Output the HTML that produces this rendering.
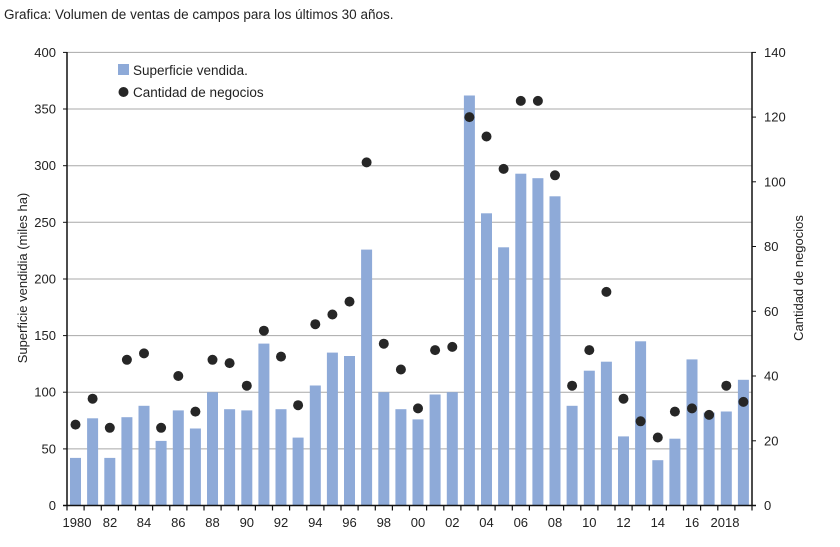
<!DOCTYPE html>
<html><head><meta charset="utf-8"><style>
html,body{margin:0;padding:0;background:#fff;}
svg{display:block;font-family:"Liberation Sans",sans-serif;}
</style></head><body>
<svg width="840" height="547" viewBox="0 0 840 547" xmlns="http://www.w3.org/2000/svg">
<rect width="840" height="547" fill="#fff"/>
<text x="4" y="19" font-size="13.5" fill="#222">Grafica: Volumen de ventas de campos para los últimos 30 años.</text>
<g stroke="#a8a8a8" stroke-width="1">
<line x1="67" y1="448.9" x2="752" y2="448.9"/>
<line x1="67" y1="392.2" x2="752" y2="392.2"/>
<line x1="67" y1="335.6" x2="752" y2="335.6"/>
<line x1="67" y1="279" x2="752" y2="279"/>
<line x1="67" y1="222.3" x2="752" y2="222.3"/>
<line x1="67" y1="165.7" x2="752" y2="165.7"/>
<line x1="67" y1="109" x2="752" y2="109"/>
<line x1="67" y1="52.4" x2="752" y2="52.4"/>
</g>
<g fill="#8eaad8">
<rect x="70" y="457.9" width="11" height="47.6"/>
<rect x="87.1" y="418.3" width="11" height="87.2"/>
<rect x="104.3" y="457.9" width="11" height="47.6"/>
<rect x="121.4" y="417.2" width="11" height="88.3"/>
<rect x="138.5" y="405.8" width="11" height="99.7"/>
<rect x="155.6" y="440.9" width="11" height="64.6"/>
<rect x="172.8" y="410.4" width="11" height="95.1"/>
<rect x="189.9" y="428.5" width="11" height="77"/>
<rect x="207" y="392.2" width="11" height="113.3"/>
<rect x="224.1" y="409.2" width="11" height="96.3"/>
<rect x="241.3" y="410.4" width="11" height="95.1"/>
<rect x="258.4" y="343.6" width="11" height="161.9"/>
<rect x="275.5" y="409.2" width="11" height="96.3"/>
<rect x="292.6" y="437.6" width="11" height="67.9"/>
<rect x="309.8" y="385.5" width="11" height="120"/>
<rect x="326.9" y="352.6" width="11" height="152.9"/>
<rect x="344" y="356" width="11" height="149.5"/>
<rect x="361.1" y="249.6" width="11" height="255.9"/>
<rect x="378.3" y="392.2" width="11" height="113.3"/>
<rect x="395.4" y="409.2" width="11" height="96.3"/>
<rect x="412.5" y="419.4" width="11" height="86.1"/>
<rect x="429.6" y="394.5" width="11" height="111"/>
<rect x="446.8" y="392.2" width="11" height="113.3"/>
<rect x="463.9" y="95.5" width="11" height="410"/>
<rect x="481" y="213.3" width="11" height="292.2"/>
<rect x="498.1" y="247.3" width="11" height="258.2"/>
<rect x="515.3" y="173.7" width="11" height="331.8"/>
<rect x="532.4" y="178.2" width="11" height="327.3"/>
<rect x="549.5" y="196.3" width="11" height="309.2"/>
<rect x="566.6" y="405.8" width="11" height="99.7"/>
<rect x="583.8" y="370.7" width="11" height="134.8"/>
<rect x="600.9" y="361.7" width="11" height="143.8"/>
<rect x="618" y="436.4" width="11" height="69.1"/>
<rect x="635.1" y="341.3" width="11" height="164.2"/>
<rect x="652.3" y="460.2" width="11" height="45.3"/>
<rect x="669.4" y="438.7" width="11" height="66.8"/>
<rect x="686.5" y="359.4" width="11" height="146.1"/>
<rect x="703.6" y="412.6" width="11" height="92.9"/>
<rect x="720.8" y="411.5" width="11" height="94"/>
<rect x="737.9" y="379.8" width="11" height="125.7"/>
</g>
<g fill="#262626">
<circle cx="75.5" cy="424.6" r="5"/>
<circle cx="92.6" cy="398.7" r="5"/>
<circle cx="109.8" cy="427.8" r="5"/>
<circle cx="126.9" cy="359.8" r="5"/>
<circle cx="144" cy="353.4" r="5"/>
<circle cx="161.1" cy="427.8" r="5"/>
<circle cx="178.3" cy="376" r="5"/>
<circle cx="195.4" cy="411.6" r="5"/>
<circle cx="212.5" cy="359.8" r="5"/>
<circle cx="229.6" cy="363.1" r="5"/>
<circle cx="246.8" cy="385.7" r="5"/>
<circle cx="263.9" cy="330.7" r="5"/>
<circle cx="281" cy="356.6" r="5"/>
<circle cx="298.1" cy="405.2" r="5"/>
<circle cx="315.3" cy="324.2" r="5"/>
<circle cx="332.4" cy="314.5" r="5"/>
<circle cx="349.5" cy="301.6" r="5"/>
<circle cx="366.6" cy="162.4" r="5"/>
<circle cx="383.8" cy="343.7" r="5"/>
<circle cx="400.9" cy="369.5" r="5"/>
<circle cx="418" cy="408.4" r="5"/>
<circle cx="435.1" cy="350.1" r="5"/>
<circle cx="452.3" cy="346.9" r="5"/>
<circle cx="469.4" cy="117.1" r="5"/>
<circle cx="486.5" cy="136.5" r="5"/>
<circle cx="503.6" cy="168.9" r="5"/>
<circle cx="520.8" cy="100.9" r="5"/>
<circle cx="537.9" cy="100.9" r="5"/>
<circle cx="555" cy="175.3" r="5"/>
<circle cx="572.1" cy="385.7" r="5"/>
<circle cx="589.3" cy="350.1" r="5"/>
<circle cx="606.4" cy="291.9" r="5"/>
<circle cx="623.5" cy="398.7" r="5"/>
<circle cx="640.6" cy="421.3" r="5"/>
<circle cx="657.8" cy="437.5" r="5"/>
<circle cx="674.9" cy="411.6" r="5"/>
<circle cx="692" cy="408.4" r="5"/>
<circle cx="709.1" cy="414.9" r="5"/>
<circle cx="726.3" cy="385.7" r="5"/>
<circle cx="743.4" cy="401.9" r="5"/>
</g>
<g stroke="#111" stroke-width="1.5">
<line x1="67" y1="52" x2="67" y2="505.5"/>
<line x1="752" y1="52" x2="752" y2="505.5"/>
<line x1="63" y1="505.5" x2="756" y2="505.5"/>
</g>
<g stroke="#111" stroke-width="1">
<line x1="63" y1="448.9" x2="67" y2="448.9"/><line x1="63" y1="392.2" x2="67" y2="392.2"/><line x1="63" y1="335.6" x2="67" y2="335.6"/><line x1="63" y1="279" x2="67" y2="279"/><line x1="63" y1="222.3" x2="67" y2="222.3"/><line x1="63" y1="165.7" x2="67" y2="165.7"/><line x1="63" y1="109" x2="67" y2="109"/><line x1="63" y1="52.4" x2="67" y2="52.4"/>
<line x1="752" y1="440.8" x2="756" y2="440.8"/><line x1="752" y1="376" x2="756" y2="376"/><line x1="752" y1="311.3" x2="756" y2="311.3"/><line x1="752" y1="246.5" x2="756" y2="246.5"/><line x1="752" y1="181.8" x2="756" y2="181.8"/><line x1="752" y1="117.1" x2="756" y2="117.1"/><line x1="752" y1="52.4" x2="756" y2="52.4"/>
</g>
<g stroke="#111" stroke-width="1.2">
<path d="M67 505.5v5M84.1 505.5v5M101.3 505.5v5M118.4 505.5v5M135.5 505.5v5M152.6 505.5v5M169.8 505.5v5M186.9 505.5v5M204 505.5v5M221.1 505.5v5M238.3 505.5v5M255.4 505.5v5M272.5 505.5v5M289.6 505.5v5M306.8 505.5v5M323.9 505.5v5M341 505.5v5M358.1 505.5v5M375.3 505.5v5M392.4 505.5v5M409.5 505.5v5M426.6 505.5v5M443.8 505.5v5M460.9 505.5v5M478 505.5v5M495.1 505.5v5M512.3 505.5v5M529.4 505.5v5M546.5 505.5v5M563.6 505.5v5M580.8 505.5v5M597.9 505.5v5M615 505.5v5M632.1 505.5v5M649.3 505.5v5M666.4 505.5v5M683.5 505.5v5M700.6 505.5v5M717.8 505.5v5M734.9 505.5v5M752 505.5v5"/>
</g>
<g font-size="13" fill="#222" text-anchor="end">
<text x="56" y="510">0</text><text x="56" y="453.4">50</text><text x="56" y="396.7">100</text><text x="56" y="340.1">150</text><text x="56" y="283.5">200</text><text x="56" y="226.8">250</text><text x="56" y="170.2">300</text><text x="56" y="113.5">350</text><text x="56" y="56.9">400</text>
</g>
<g font-size="13" fill="#222">
<text x="764" y="510">0</text><text x="764" y="445.3">20</text><text x="764" y="380.5">40</text><text x="764" y="315.8">60</text><text x="764" y="251">80</text><text x="764" y="186.3">100</text><text x="764" y="121.6">120</text><text x="764" y="56.9">140</text>
</g>
<g font-size="13" fill="#222" text-anchor="middle">
<text x="77" y="527">1980</text><text x="110" y="527">82</text><text x="144" y="527">84</text><text x="178.3" y="527">86</text><text x="212.5" y="527">88</text><text x="246.8" y="527">90</text><text x="281" y="527">92</text><text x="315.3" y="527">94</text><text x="349.5" y="527">96</text><text x="383.8" y="527">98</text><text x="418" y="527">00</text><text x="452.3" y="527">02</text><text x="486.5" y="527">04</text><text x="520.8" y="527">06</text><text x="555" y="527">08</text><text x="589.3" y="527">10</text><text x="623.5" y="527">12</text><text x="657.8" y="527">14</text><text x="692" y="527">16</text><text x="725" y="527">2018</text>
</g>
<text transform="translate(27,278) rotate(-90)" font-size="13" fill="#222" text-anchor="middle">Superficie vendidia (miles ha)</text>
<text transform="translate(803,278) rotate(-90)" font-size="13" fill="#222" text-anchor="middle">Cantidad de negocios</text>
<rect x="118" y="64" width="11" height="11" fill="#8eaad8"/>
<text x="133" y="75" font-size="13.5" fill="#222">Superficie vendida.</text>
<circle cx="123.5" cy="92" r="5" fill="#262626"/>
<text x="133" y="97" font-size="13.5" fill="#222">Cantidad de negocios</text>
</svg>
</body></html>
